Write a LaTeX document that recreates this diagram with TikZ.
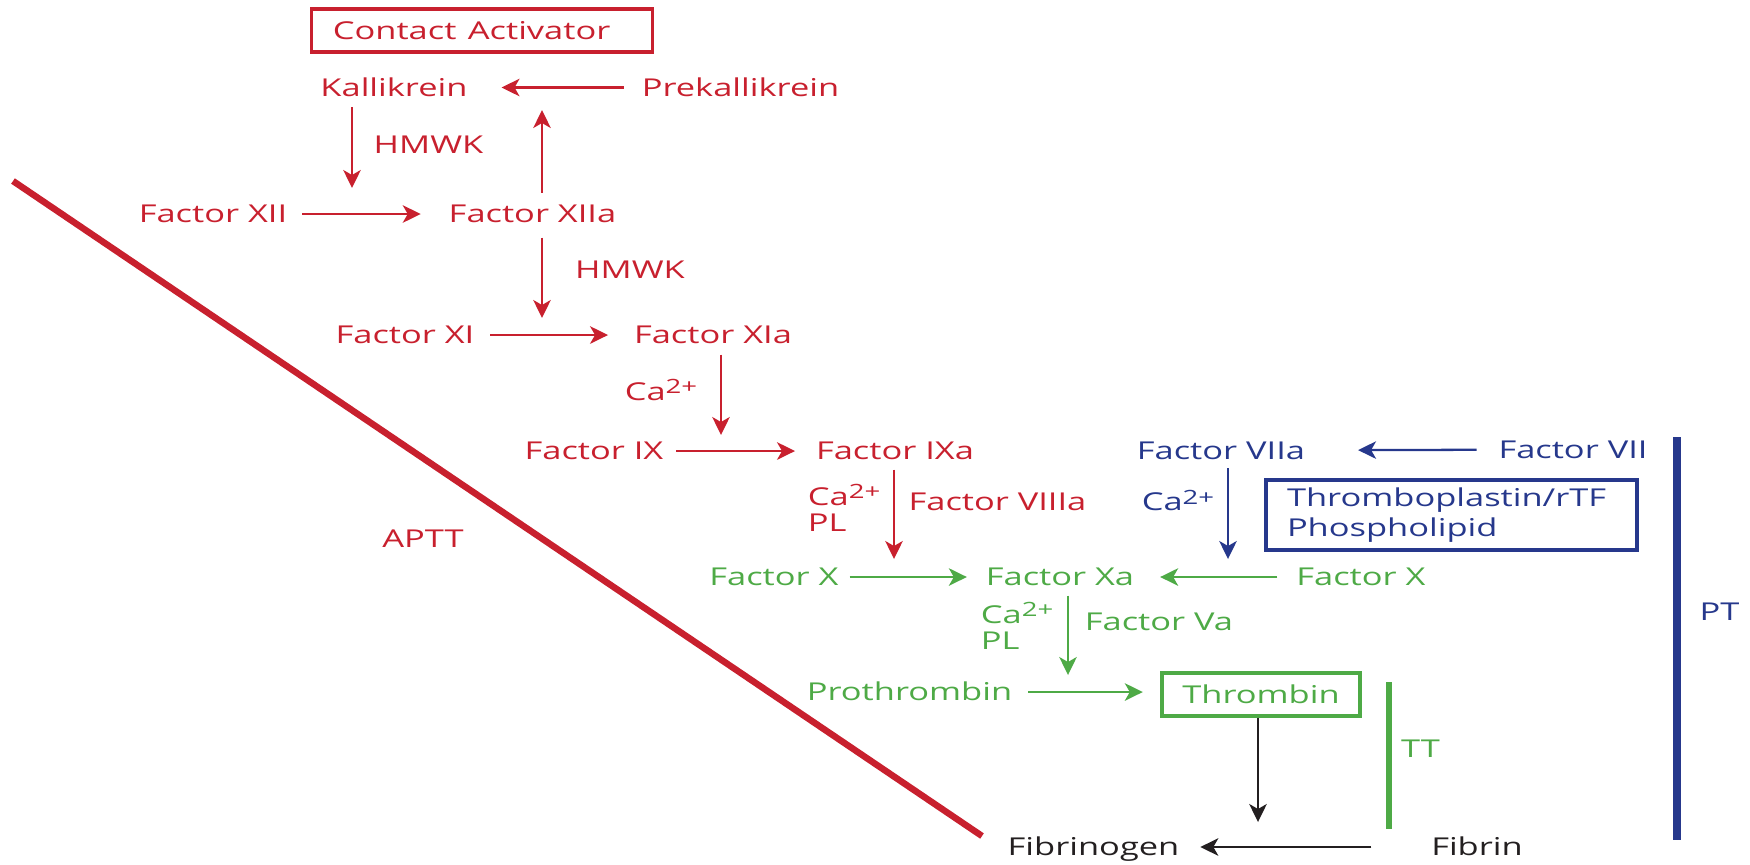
\documentclass[tikz,border=0pt]{standalone}
\usepackage{fontspec}
\setmainfont{Open Sans}
\usetikzlibrary{arrows.meta}

\definecolor{clotred}{RGB}{200,32,46}
\definecolor{clotblue}{RGB}{38,56,140}
\definecolor{clotgreen}{RGB}{78,170,70}
\definecolor{clotblack}{RGB}{35,31,32}

\newcommand{\catwo}{Ca\raisebox{1.9pt}{\fontsize{5.6}{5.6}\selectfont 2+}}

\begin{document}
\begin{tikzpicture}[x=0.1mm, y=-0.1mm,
    lbl/.style={font=\fontsize{7}{8.5}\selectfont, xscale=1.4, inner sep=0pt, text height=5pt, text depth=0pt},
    stack/.style={font=\fontsize{7}{7.3}\selectfont, xscale=1.4, inner sep=0pt, align=left, anchor=north west},
    boxed/.style={draw, line width=0.9pt, font=\fontsize{7}{8.5}\selectfont, xscale=1.4},
    arr/.style={-{Stealth[length=1.8mm,width=1.75mm,inset=0.5mm]}, line width=0.65pt},
    gap/.style 2 args={shorten <=#1, shorten >=#2},
    bar/.style={line width=2.1pt}]
\useasboundingbox (0,0) rectangle (1750,864);

% intrinsic pathway
\node[boxed, clotred, text width=21.3mm, align=left, inner xsep=1.5mm, inner ysep=0pt, minimum height=4.3mm, text height=5pt, text depth=0pt] (act) at (482,30.5) {Contact Activator};
\node[lbl, clotred] (kal) at (394,87.5) {Kallikrein};
\node[lbl, clotred] (pre) at (740.5,87.5) {Prekallikrein};
\node[lbl, clotred] (hmwk1) at (428.5,145) {HMWK};
\node[lbl, clotred] (xii) at (213,214) {Factor XII};
\node[lbl, clotred] (xiia) at (532.5,214) {Factor XIIa};
\node[lbl, clotred] (hmwk2) at (630,270) {HMWK};
\node[lbl, clotred] (xi) at (405,335) {Factor XI};
\node[lbl, clotred] (xia) at (713,335) {Factor XIa};
\node[lbl, clotred] (ca1) at (661,391.5) {\catwo};
\node[lbl, clotred] (ix) at (594,451) {Factor IX};
\node[lbl, clotred] (ixa) at (895,451) {Factor IXa};
\node[stack, clotred] (ca2) at (807,484) {\catwo\\PL};
\node[lbl, clotred] (viiia) at (997.5,502) {Factor VIIIa};
\node[lbl, clotred] (aptt) at (423,539) {APTT};

% extrinsic pathway
\node[lbl, clotblue] (viia) at (1221,450.5) {Factor VIIa};
\node[lbl, clotblue] (vii) at (1573,449.5) {Factor VII};
\node[lbl, clotblue] (ca3) at (1178,502) {\catwo};
\node[boxed, clotblue, text width=23.5mm, align=left, inner xsep=1.5mm, inner ysep=0pt, minimum height=7mm] (tf) at (1451.5,515) {Thromboplastin/rTF\\Phospholipid};
\node[lbl, clotblue] (pt) at (1719.5,612) {PT};

% common pathway
\node[lbl, clotgreen] (xl) at (774,577) {Factor X};
\node[lbl, clotgreen] (xa) at (1060,577) {Factor Xa};
\node[lbl, clotgreen] (xr) at (1361,577) {Factor X};
\node[stack, clotgreen] (ca4) at (980,602) {\catwo\\PL};
\node[lbl, clotgreen] (va) at (1159,622) {Factor Va};
\node[lbl, clotgreen] (pro) at (909.5,692) {Prothrombin};
\node[boxed, clotgreen, minimum width=14.14mm, minimum height=4.3mm, inner sep=0pt, text height=5pt, text depth=0pt] (thr) at (1261,694.5) {Thrombin};
\node[lbl, clotgreen] (tt) at (1420.5,748.5) {TT};
\node[lbl, clotblack] (fgen) at (1093.5,847) {Fibrinogen};
\node[lbl, clotblack] (fib) at (1477,847) {Fibrin};

% free arrow ends
\coordinate (kalTip) at (352,188);
\coordinate (preTip) at (542,110);
\coordinate (xiTip) at (542,318);
\coordinate (ixTip) at (721,435);
\coordinate (xlTip) at (894,559);
\coordinate (xrTip) at (1228,559);
\coordinate (proTip) at (1068,675);
\coordinate (fgenTip) at (1258,822);

\draw[arr, clotred, gap={1.7mm}{3.3mm}] (pre) -- (kal);
\draw[arr, clotred, shorten <=1mm] (kal.south -| kalTip) -- (kalTip);
\draw[arr, clotred, gap={1.4mm}{2.7mm}] (xii) -- (xiia);
\draw[arr, clotred, shorten <=1.2mm] (xiia.north -| preTip) -- (preTip);
\draw[arr, clotred, shorten <=1.4mm] (xiia.south -| xiTip) -- (xiTip);
\draw[arr, clotred, gap={1.5mm}{2.5mm}] (xi) -- (xia);
\draw[arr, clotred, shorten <=1mm] (xia.south -| ixTip) -- (ixTip);
\draw[arr, clotred, gap={1.2mm}{2mm}] (ix) -- (ixa);
\draw[arr, clotred, shorten <=0.9mm] (ixa.south -| xlTip) -- (xlTip);
\draw[arr, clotblue, gap={2.1mm}{5.2mm}] (vii) -- (viia);
\draw[arr, clotblue, shorten <=0.8mm] (viia.south -| xrTip) -- (xrTip);
\draw[arr, clotgreen, gap={1mm}{1.8mm}] (xl) -- (xa);
\draw[arr, clotgreen, gap={1.8mm}{2.5mm}] (xr) -- (xa);
\draw[arr, clotgreen, shorten <=0.9mm] (xa.south -| proTip) -- (proTip);
\draw[arr, clotgreen, gap={1.5mm}{1.7mm}] (pro) -- (pro -| thr.west);
\draw[arr, clotblack] (thr.south -| fgenTip) -- (fgenTip);
\draw[arr, clotblack, gap={5.9mm}{2mm}] (fib) -- (fgen);

% APTT, PT and TT bars
\draw[clotred, line width=1.85pt] (13,181) -- (982,836);
\draw[clotblue, bar] (1677,437) -- (1677,840);
\draw[clotgreen, line width=1.9pt] (1389,682) -- (1389,829);
\end{tikzpicture}
\end{document}
